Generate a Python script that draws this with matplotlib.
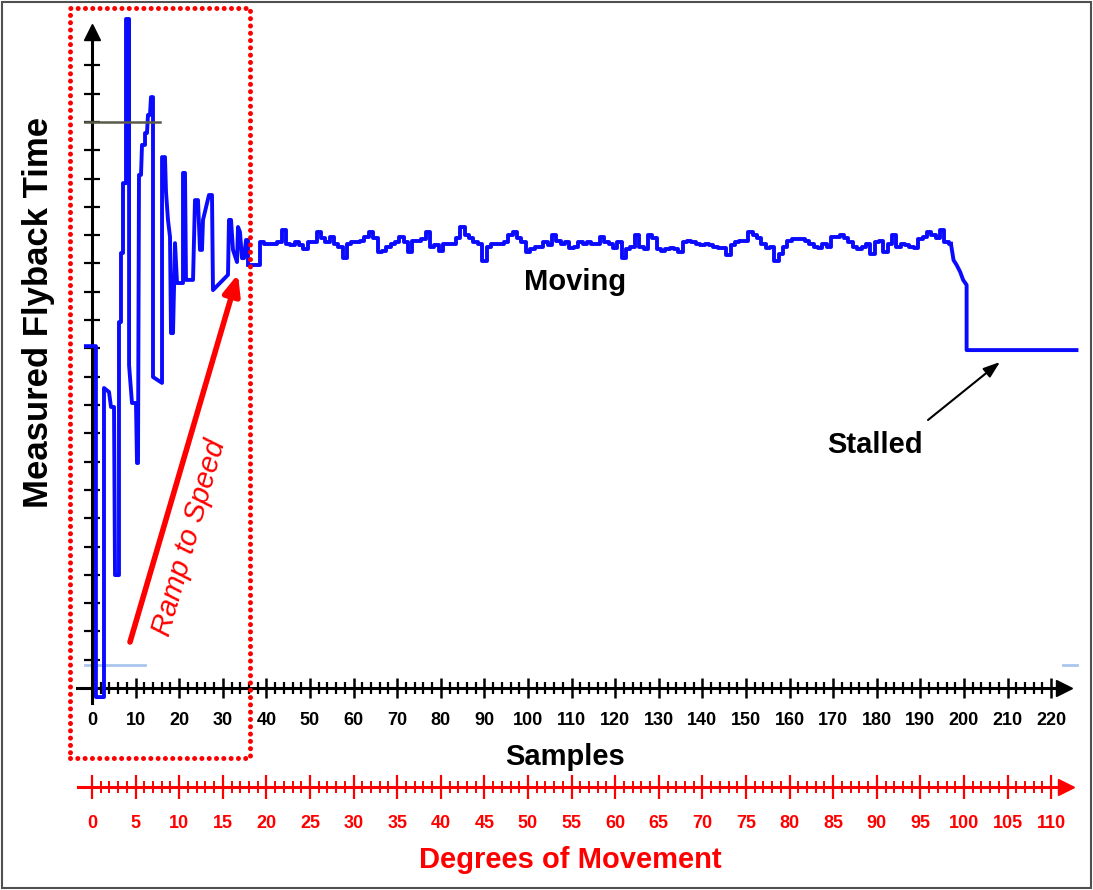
import matplotlib

matplotlib.use('Agg')
import matplotlib.pyplot as plt
import numpy as np
from matplotlib.patches import Rectangle

# ramp-up: (sample, flyback) vertices
ramp_x = [-1.4, 0.9, 0.9, 2.75, 2.75, 3.9, 4.36, 5.05, 5.28, 6.19, 6.19, 6.65, 6.65, 7.11,
          7.11, 7.8, 7.8, 8.5, 8.5, 9.17, 10.09, 10.32, 10.55, 10.78, 11.24, 11.47, 12.16,
          12.16, 12.61, 12.84, 13.3, 13.53, 13.99, 13.99, 16.06, 16.06, 16.74, 16.97, 17.43,
          17.89, 18.12, 18.58, 19.04, 19.5, 20.87, 20.87, 21.33, 21.56, 23.17, 23.62, 24.31,
          24.77, 25.23, 25.46, 26.83, 27.52, 27.75, 31.19, 31.42, 31.88, 32.34, 33.26, 33.49,
          33.94, 34.4, 34.86, 35.32, 35.78, 35.78]
ramp_y = [12.08, 12.08, -0.32, -0.32, 10.6, 10.46, 9.93, 9.93, 3.99, 3.99, 12.93, 12.93, 15.37,
          15.37, 17.84, 17.84, 23.64, 23.64, 11.41, 10.07, 10.07, 7.95, 7.95, 18.13, 18.13,
          19.19, 19.19, 19.61, 19.61, 20.25, 20.25, 20.88, 20.88, 10.99, 10.78, 18.76, 18.76,
          17.53, 16.54, 15.94, 12.54, 12.54, 15.72, 14.31, 14.31, 18.2, 18.2, 14.42, 14.42,
          17.24, 17.24, 15.48, 15.48, 16.54, 17.42, 17.42, 14.06, 14.6, 16.54, 16.54, 15.48,
          15.05, 16.29, 16.11, 15.19, 15.19, 15.83, 15.83, 14.95]

# steady running, one value per sample from sample 36 to 197
moving_first_sample = 36
moving_y = [14.95, 14.95, 14.95, 15.75, 15.7, 15.7, 15.7, 15.75, 16.2, 15.7,
            15.65, 15.75, 15.65, 15.5, 15.75, 15.75, 16.1, 15.9, 15.75, 15.95,
            15.7, 15.6, 15.2, 15.7, 15.75, 15.75, 15.8, 15.95, 16.1, 15.9,
            15.4, 15.45, 15.6, 15.7, 15.75, 15.95, 15.75, 15.4, 15.8, 15.8,
            15.85, 16.1, 15.6, 15.65, 15.45, 15.7, 15.7, 15.7, 15.9, 16.3,
            16.0, 15.9, 15.75, 15.7, 15.1, 15.6, 15.7, 15.7, 15.7, 15.75,
            16.0, 16.1, 15.9, 15.75, 15.4, 15.5, 15.6,
            15.6, 15.75, 15.65, 16.0, 15.8, 15.7, 15.75, 15.55, 15.6, 15.75,
            15.7, 15.75, 15.7, 15.7, 15.95, 15.75, 15.7, 15.55, 15.75, 15.2,
            15.5, 15.6, 16.0, 15.6, 15.5, 16.0, 15.9, 15.5, 15.45, 15.5,
            15.55, 15.5, 15.4, 15.75, 15.8, 15.75, 15.7, 15.65, 15.7, 15.65,
            15.6, 15.55, 15.55, 15.3, 15.65, 15.75, 15.8, 15.8, 16.1, 16.0,
            15.9, 15.7, 15.55, 15.6, 15.1, 15.35, 15.6, 15.8, 15.85, 15.85,
            15.85, 15.8, 15.7, 15.6, 15.55, 15.7, 15.6,
            15.95, 15.95, 16.0, 15.9, 15.75, 15.6, 15.5, 15.6, 15.7, 15.35,
            15.75, 15.8, 15.4, 15.7, 16.0, 15.6, 15.7, 15.65, 15.6, 15.55,
            15.85, 15.95, 16.1, 16.0, 15.9, 16.2, 15.75, 15.7]

# slowdown and stall
stall_x = [197.0, 197.6, 198.3, 199.1, 199.8, 200.6, 200.6, 225.8]
stall_y = [15.7, 15.12, 14.95, 14.71, 14.42, 14.24, 11.94, 11.94]

sample_ticks = list(range(0, 221, 10))
degree_ticks = list(range(0, 111, 5))
value_ticks = list(range(1, 23))

W, H = 1093, 890
BLUE = '#0a0aff'
RED = '#ff0000'

# pixel layout of the original picture
X0_PX, PX_PER_SAMPLE = 92, 4.36
Y0_PX, PX_PER_UNIT = 688, 28.3


def sx(px):
    return (px - X0_PX) / PX_PER_SAMPLE


def vy(py):
    return (Y0_PX - py) / PX_PER_UNIT


plt.rcParams['font.family'] = ['Liberation Sans', 'DejaVu Sans']

fig = plt.figure(figsize=(W / 100, H / 100), dpi=100)
fig.patch.set_facecolor('white')

ax = fig.add_axes([60 / W, 1 - 710 / H, 1030 / W, 702 / H])
ax.set_xlim(sx(60), sx(1090))
ax.set_ylim(vy(710), vy(8))
ax.patch.set_alpha(0)

for side in ('top', 'right'):
    ax.spines[side].set_visible(False)
for side in ('bottom', 'left'):
    ax.spines[side].set_position(('data', 0))
    ax.spines[side].set_linewidth(2.2)
ax.spines['bottom'].set_bounds(sx(77), sx(1062))
ax.spines['left'].set_bounds(vy(703), vy(36))
ax.plot([sx(1064)], [0], marker='>', ms=12, color='black', clip_on=False)
ax.plot([0], [vy(32)], marker='^', ms=12, color='black', clip_on=False)

ax.set_xticks(sample_ticks)
ax.set_xticklabels([str(t) for t in sample_ticks], fontweight='bold', fontsize=13)
ax.set_xticks(np.arange(0, 220, 2), minor=True)
ax.set_yticks(value_ticks)
ax.tick_params(axis='x', which='major', direction='inout', length=15, width=1.8, pad=10)
ax.tick_params(axis='x', which='minor', direction='inout', length=8, width=1.6)
ax.tick_params(axis='y', direction='inout', length=12, width=1.6, labelleft=False)

# leftover gridline stubs
ax.plot([sx(85), sx(145)], [vy(665), vy(665)], color='#a9c6ef', lw=2, zorder=1)
ax.plot([sx(1063), sx(1077)], [vy(665), vy(665)], color='#a9c6ef', lw=2, zorder=1)

moving_x = moving_first_sample + np.arange(len(moving_y))
ax.plot(ramp_x, ramp_y, color=BLUE, lw=2.8, zorder=3)
ax.step(moving_x, moving_y, where='mid', color=BLUE, lw=2.8, zorder=3)
ax.plot(stall_x, stall_y, color=BLUE, lw=2.8, zorder=3)

ax.plot([sx(85), sx(160)], [20, 20], color='#5a5a4a', lw=1.8, zorder=4)

# ramp-to-speed annotation
ax.add_patch(Rectangle((sx(70), vy(758)), sx(250) - sx(70), vy(8) - vy(758),
                       fill=False, ec=RED, lw=3.6, ls=(0, (0.01, 1.45)),
                       capstyle='round', clip_on=False, zorder=5))
ax.annotate('', xy=(sx(238), vy(274)), xytext=(sx(130), vy(642)),
            arrowprops=dict(arrowstyle='-|>,head_length=1.2,head_width=0.5',
                            color=RED, lw=4, shrinkA=0, shrinkB=0))
ax.text(sx(189), vy(538), 'Ramp to Speed', rotation=74, color=RED, fontsize=21,
        style='italic', ha='center', va='center', rotation_mode='anchor')

ax.text(sx(575), vy(282), 'Moving', fontsize=21, fontweight='bold', ha='center', va='center')
ax.text(sx(875), vy(445), 'Stalled', fontsize=21, fontweight='bold', ha='center', va='center')
ax.annotate('', xy=(sx(1000), vy(362)), xytext=(sx(928), vy(420)),
            arrowprops=dict(arrowstyle='-|>,head_length=1.0,head_width=0.35',
                            color='black', lw=1.5, shrinkA=0, shrinkB=0))

fig.text(39 / W, 1 - 312 / H, 'Measured Flyback Time', rotation=90, fontsize=25,
         fontweight='bold', ha='center', va='center')
fig.text(565 / W, 1 - 757 / H, 'Samples', fontsize=21, fontweight='bold',
         ha='center', va='center')

# degrees of movement scale (2 samples per degree)
ax2 = fig.add_axes([60 / W, 1 - 787 / H, 1030 / W, 0.0001])
ax2.set_xlim(sx(60) / 2, sx(1090) / 2)
ax2.patch.set_alpha(0)
for side in ('top', 'right', 'left'):
    ax2.spines[side].set_visible(False)
ax2.spines['bottom'].set_color(RED)
ax2.spines['bottom'].set_linewidth(2.2)
ax2.spines['bottom'].set_bounds(sx(78) / 2, sx(1064) / 2)
ax2.plot([sx(1066) / 2], [0], marker='>', ms=12, color=RED, clip_on=False,
         transform=ax2.get_xaxis_transform())
ax2.set_yticks([])
ax2.set_xticks(degree_ticks)
ax2.set_xticklabels([str(t) for t in degree_ticks], fontweight='bold', fontsize=13, color=RED)
ax2.set_xticks(np.arange(0, 111, 1), minor=True)
ax2.tick_params(axis='x', which='major', direction='inout', length=17, width=1.6,
                color=RED, pad=12)
ax2.tick_params(axis='x', which='minor', direction='inout', length=9, width=1.4, color=RED)

fig.text(570 / W, 1 - 860 / H, 'Degrees of Movement', fontsize=21, fontweight='bold',
         color=RED, ha='center', va='center')

fig.add_artist(Rectangle((2 / W, 2 / H), (W - 4) / W, (H - 4) / H, transform=fig.transFigure,
                         fill=False, ec='#505050', lw=1.5))

fig.savefig('out.png', dpi=100)
